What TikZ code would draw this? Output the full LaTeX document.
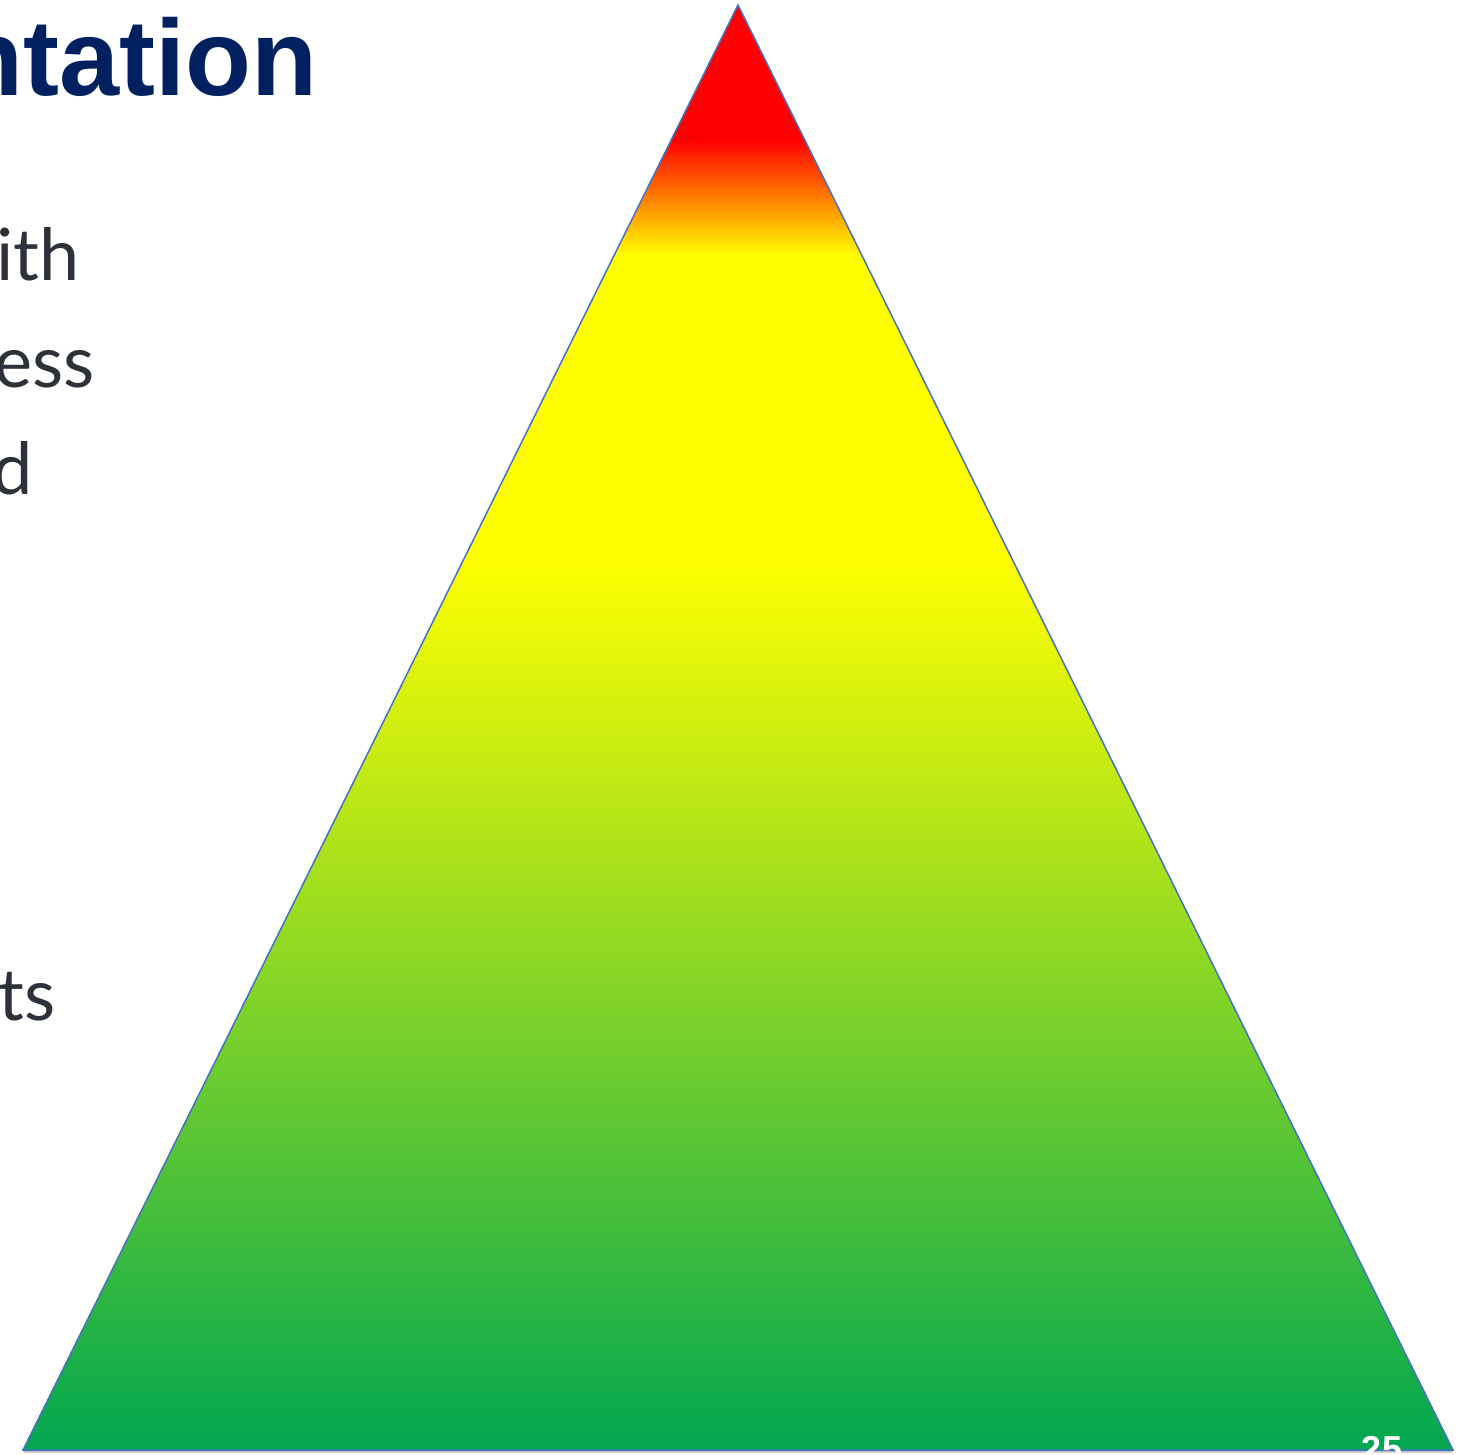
\documentclass[tikz,border=0pt]{standalone}
\usepackage{fontspec}
\setmainfont{Lato}
\newfontfamily\titlefont{Liberation Sans}
\usetikzlibrary{positioning}

\definecolor{navy}{RGB}{0,32,96}
\definecolor{bodygray}{RGB}{45,50,58}
\definecolor{pyrred}{RGB}{255,0,0}
\definecolor{pyryellow}{RGB}{255,255,0}
\definecolor{leafgreen}{RGB}{0,166,81}
\definecolor{rimblue}{RGB}{68,114,196}

\begin{document}
\begin{tikzpicture}[x=1pt,y=-1pt,
  title/.style={inner sep=0pt,anchor=base east,text=navy,
    font=\titlefont\bfseries\fontsize{108}{120}\selectfont},
  body/.style={inner sep=0pt,anchor=base east,text=bodygray,
    font=\fontsize{72}{86}\selectfont},
  pagenum/.style={inner sep=0pt,anchor=base,text=white,
    font=\titlefont\bfseries\fontsize{36}{40}\selectfont},
  rim/.style={draw=rimblue,line width=1.5pt,line join=miter}]
  \useasboundingbox (0,0) rectangle (1464,1454);

  \coordinate (apex) at (738,5);
  \coordinate (bl) at (23,1450);
  \coordinate (br) at (1453,1450);

  % soft shadow under the base
  \fill[black!25] ([yshift=-2.5pt]apex) -- ([yshift=-2.5pt]br) -- ([yshift=-2.5pt]bl) -- cycle;

  % pyramid fill
  \begin{scope}
    \clip (apex) -- (br) -- (bl) -- cycle;
    \fill[pyrred] (0,0) rectangle (1464,141);
    \shade[top color=pyrred,bottom color=pyryellow] (0,140) rectangle (1464,256);
    \fill[pyryellow] (0,255) rectangle (1464,561);
    \shade[top color=pyryellow,bottom color=leafgreen] (0,560) rectangle (1464,1454);
  \end{scope}
  \draw[rim] (apex) -- (br) -- (bl) -- cycle;

  % text cut off at the left
  \node[title] (head) at (318,95) {ntation};
  \node[body] (l1) at (80,280) {ith};
  \node[body] (l2) at (95,387) {ess};
  \node[body] (l3) at (33,494) {d};
  \node[body] (l4) at (56,1020) {ts};

  \node[pagenum] (pnum) at (1382,1461) {25};
\end{tikzpicture}
\end{document}
